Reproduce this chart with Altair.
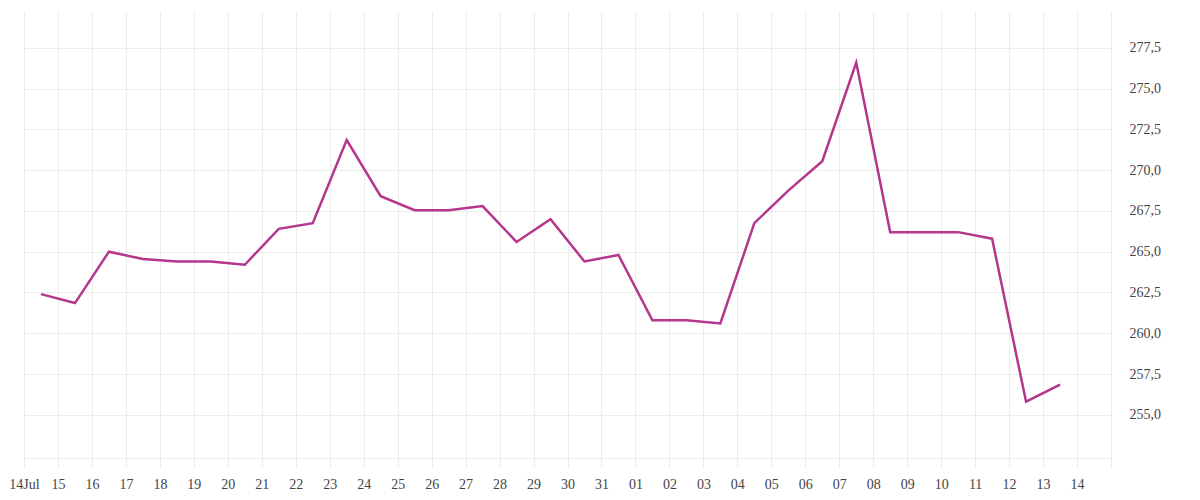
import altair as alt
import pandas as pd

# Daily values (midday points), 14 Jul .. 13 Aug
dates = [
    "2024-07-14", "2024-07-15", "2024-07-16", "2024-07-17", "2024-07-18",
    "2024-07-19", "2024-07-20", "2024-07-21", "2024-07-22", "2024-07-23",
    "2024-07-24", "2024-07-25", "2024-07-26", "2024-07-27", "2024-07-28",
    "2024-07-29", "2024-07-30", "2024-07-31", "2024-08-01", "2024-08-02",
    "2024-08-03", "2024-08-04", "2024-08-05", "2024-08-06", "2024-08-07",
    "2024-08-08", "2024-08-09", "2024-08-10", "2024-08-11", "2024-08-12",
    "2024-08-13",
]
values = [
    262.4, 261.85, 265.0, 264.55, 264.4,
    264.4, 264.2, 266.4, 266.75, 271.85,
    268.4, 267.55, 267.55, 267.8, 265.6,
    267.0, 264.4, 264.8, 260.8, 260.8,
    260.6, 266.75, 268.75, 270.55, 276.6,
    266.2, 266.2, 266.2, 265.8, 255.8,
    256.85,
]
y_ticks = [255.0, 257.5, 260.0, 262.5, 265.0, 267.5, 270.0, 272.5, 275.0, 277.5]

df = pd.DataFrame({"date": [d + "T12:00:00" for d in dates], "value": values})

x_tick_values = [alt.DateTime(year=2024, month=7, date=d) for d in range(14, 32)] + \
                [alt.DateTime(year=2024, month=8, date=d) for d in range(1, 16)]

label_expr_x = (
    "(date(datum.value) == 14 && month(datum.value) == 6) ? '14Jul' : "
    "((date(datum.value) == 15 && month(datum.value) == 7) ? '' : timeFormat(datum.value, '%d'))"
)

chart = alt.Chart(df).mark_line(color="#b5368d", strokeWidth=2.5).encode(
    x=alt.X(
        "date:T",
        title=None,
        scale=alt.Scale(domain=[alt.DateTime(year=2024, month=7, date=14),
                                alt.DateTime(year=2024, month=8, date=15)]),
        axis=alt.Axis(
            values=x_tick_values,
            labelExpr=label_expr_x,
            grid=True,
            gridColor="#ececec",
            domain=True,
            domainColor="#ececec",
            ticks=True,
            tickColor="#ececec",
            tickSize=10,
            labelPadding=9,
            labelAngle=0,
            labelAlign="center",
            labelFont="Liberation Serif",
            labelFontSize=14,
            labelColor="#444444",
            labelFlush=False,
            labelOverlap=False,
        ),
    ),
    y=alt.Y(
        "value:Q",
        title=None,
        scale=alt.Scale(domain=[252.35, 279.7], nice=False, zero=False),
        axis=alt.Axis(
            orient="right",
            values=y_ticks,
            labelExpr="replace(format(datum.value, '.1f'), '.', ',')",
            grid=True,
            gridColor="#ececec",
            domain=False,
            ticks=False,
            labelPadding=18,
            labelFont="Liberation Serif",
            labelFontSize=14,
            labelColor="#444444",
        ),
    ),
).properties(
    width=1087,
    height=446,
    padding={"left": 0, "top": 4, "right": 5, "bottom": 5},
).configure_view(strokeWidth=0)

chart.save("out.html", embed_options={"renderer": "svg", "actions": False})
